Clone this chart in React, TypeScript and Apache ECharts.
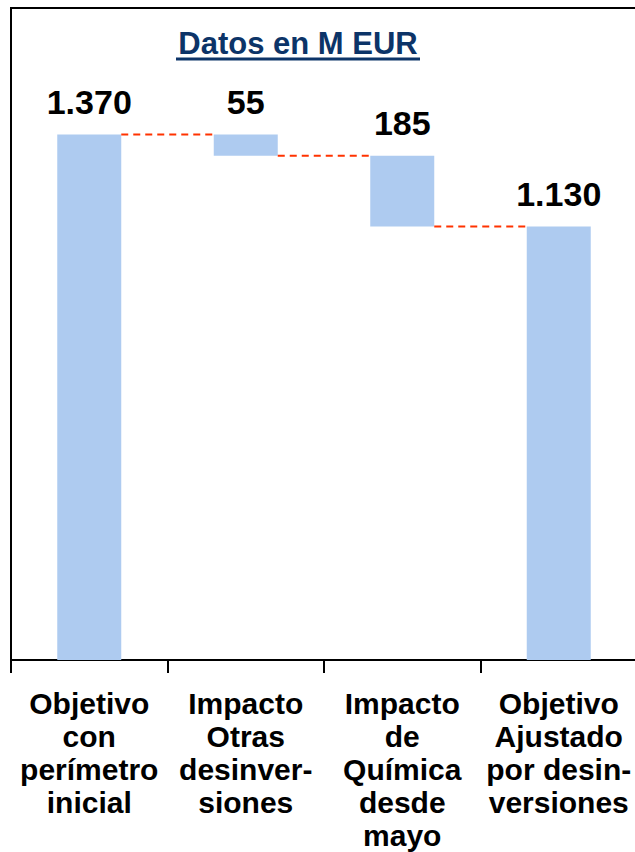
import React, { useEffect, useRef } from "react";
import * as echarts from "echarts";

const categories = [
  "Objetivo\ncon\nperímetro\ninicial",
  "Impacto\nOtras\ndesinver-\nsiones",
  "Impacto\nde\nQuímica\ndesde\nmayo",
  "Objetivo\nAjustado\npor desin-\nversiones",
];
const barValues = [1370, 55, 185, 1130];
const barBases = [0, 1315, 1130, 0];
const connectorLevels = [1370, 1315, 1130];
const titleText = "Datos en M EUR";
const yMax = 1700;

const FONT = '"Liberation Sans", Arial, sans-serif';
const BAR_W = 64;

const fmt = (n: number) => String(n).replace(/\B(?=(\d{3})+(?!\d))/g, ".");

export default function App() {
  const ref = useRef<HTMLDivElement>(null);
  useEffect(() => {
    if (!ref.current) return;
    const chart = echarts.init(ref.current, undefined, { renderer: "svg" });
    chart.setOption({
      animation: false,
      backgroundColor: "#ffffff",
      grid: {
        left: 11,
        top: 8,
        right: 3,
        bottom: 188,
        show: true,
        borderColor: "#000000",
        borderWidth: 2,
        backgroundColor: "transparent",
      },
      xAxis: {
        type: "category",
        data: categories,
        axisLine: { show: true, lineStyle: { color: "#000000", width: 2 } },
        axisTick: { show: true, length: 13, lineStyle: { color: "#000000", width: 2 } },
        axisLabel: {
          interval: 0,
          hideOverlap: false,
          margin: 27,
          color: "#000000",
          fontFamily: FONT,
          fontWeight: "bold",
          fontSize: 30,
          lineHeight: 33,
          align: "center",
        },
        splitLine: { show: false },
      },
      yAxis: {
        type: "value",
        min: 0,
        max: yMax,
        show: false,
        splitLine: { show: false },
      },
      series: [
        {
          type: "bar",
          stack: "w",
          data: barBases,
          barWidth: BAR_W,
          itemStyle: { color: "transparent" },
          silent: true,
        },
        {
          type: "bar",
          stack: "w",
          data: barValues,
          barWidth: BAR_W,
          itemStyle: { color: "#aecbf0" },
          label: {
            show: true,
            position: "top",
            distance: 16,
            formatter: (p: any) => fmt(p.value),
            color: "#000000",
            fontFamily: FONT,
            fontWeight: "bold",
            fontSize: 34,
          },
        },
        {
          type: "custom",
          coordinateSystem: "cartesian2d",
          data: connectorLevels.map((v, i) => [i, v]),
          z: 5,
          renderItem: (params: any, api: any) => {
            const a = api.coord([api.value(0), api.value(1)]);
            const b = api.coord([api.value(0) + 1, api.value(1)]);
            return {
              type: "line",
              shape: { x1: a[0] + BAR_W / 2, y1: a[1], x2: b[0] - BAR_W / 2, y2: b[1] },
              style: { stroke: "#ff3300", lineWidth: 2, lineDash: [7, 5] },
            };
          },
        },
      ],
      graphic: [
        {
          type: "text",
          x: 298,
          y: 43,
          style: {
            text: titleText,
            fill: "#0c3468",
            font: `bold 31px ${FONT}`,
            textAlign: "center",
            textVerticalAlign: "middle",
          },
        },
        {
          type: "line",
          shape: { x1: 176, y1: 59, x2: 420, y2: 59 },
          style: { stroke: "#0c3468", lineWidth: 3 },
        },
      ],
    });
    return () => chart.dispose();
  }, []);
  return (
    <div
      style={{
        position: "fixed",
        left: 0,
        top: 0,
        width: 635,
        height: 852,
        overflow: "hidden",
        background: "#ffffff",
      }}
    >
      <div ref={ref} style={{ width: 640, height: 852 }} />
    </div>
  );
}
